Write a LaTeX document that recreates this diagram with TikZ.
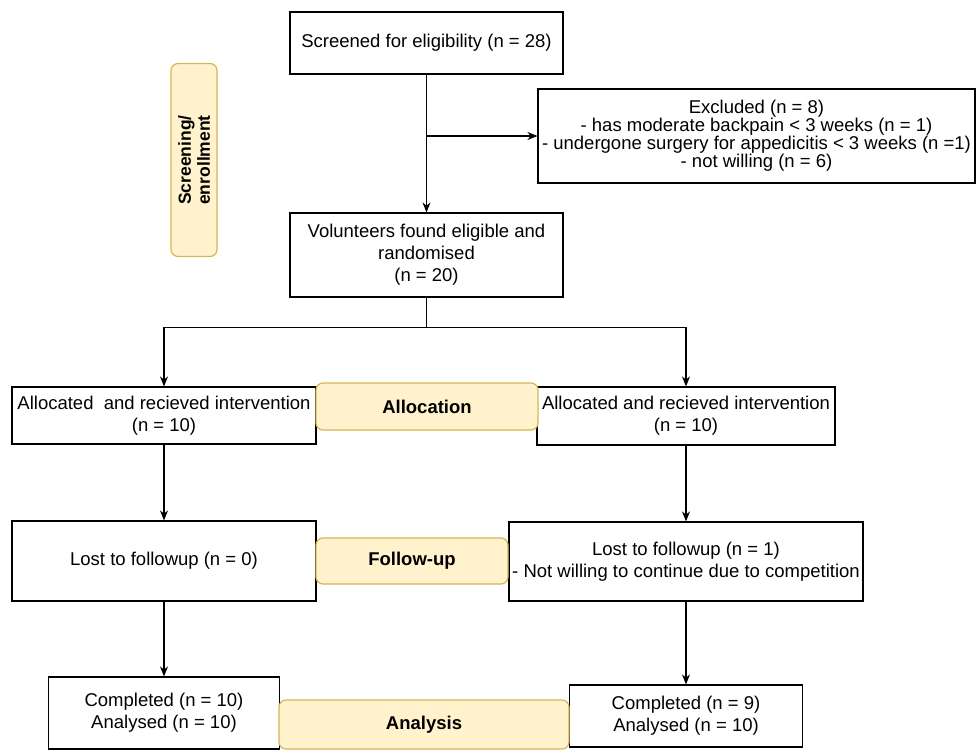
\documentclass[tikz,border=0pt]{standalone}
\usepackage{fontspec}
\setmainfont{Liberation Sans}
\usetikzlibrary{positioning, arrows.meta, calc}
\definecolor{lblfill}{HTML}{FFF2CC}
\definecolor{lbldraw}{HTML}{D6B656}
\newcommand{\boxfont}{\fontsize{18.5}{22}\selectfont}
\tikzset{
  box/.style={rectangle, draw=black, fill=white, line width=1.2pt, align=center, inner sep=2pt, font=\boxfont},
  phase/.style={rectangle, rounded corners=7pt, draw=lbldraw, fill=lblfill, line width=1.2pt, align=center, font=\boxfont\bfseries, inner sep=0pt},
  arrow/.style={line width=1.2pt, -{Stealth[length=10pt, width=8pt]}}
}

\begin{document}
\begin{tikzpicture}[x=1pt, y=-1pt]
        \useasboundingbox (0,0) rectangle (976,750);

        \node (screen) [box, minimum width=273pt, minimum height=62pt] at (426.5,43) {Screened for eligibility (n = 28)};
        \node (excl) [box, minimum width=437pt, minimum height=94pt, font=\fontsize{18.5}{18}\selectfont] at (756.5,136) {Excluded (n = 8)\\- has moderate backpain < 3 weeks (n = 1)\\- undergone surgery for appedicitis < 3 weeks (n =1)\\- not willing (n = 6)};
        \node (vol) [box, minimum width=273pt, minimum height=84pt] at (426.5,255) {Volunteers found eligible and\\randomised\\(n = 20)};

        % phase labels
        \node (lblscreen) [phase, minimum width=46pt, minimum height=193pt] at (194,160) {};
        \node [rotate=90, font=\fontsize{17.5}{19}\selectfont\bfseries, align=center] at (lblscreen.center) {Screening/\\enrollment};

        % left arm
        \node (alloc1) [box, minimum width=304pt, minimum height=57pt] at (164,415.5) {Allocated\ \ and recieved intervention\\(n = 10)};
        \node (lost1) [box, minimum width=304pt, minimum height=80pt] at (164,561) {Lost to followup (n = 0)};
        \node (comp1) [box, minimum width=231pt, minimum height=72pt] at (164,713) {Completed (n = 10)\\Analysed (n = 10)};

        % right arm
        \node (alloc2) [box, minimum width=298pt, minimum height=58pt] at (686,416) {Allocated and recieved intervention\\(n = 10)};
        \node (lost2) [box, minimum width=354pt, minimum height=79pt] at (686,561.5) {Lost to followup (n = 1)\\- Not willing to continue due to competition};
        \node (comp2) [box, minimum width=233pt, minimum height=62pt] at (686,716) {Completed (n = 9)\\Analysed (n = 10)};

        \node (lblalloc) [phase, minimum width=222pt, minimum height=47pt] at (427,406.5) {Allocation};
        \node (lblfollow) [phase, minimum width=192pt, minimum height=46pt] at (412,561) {Follow-up};
        \node (lblanal) [phase, minimum width=290pt, minimum height=49pt] at (424,724.5) {Analysis};

        \draw [arrow] (screen) -- (vol);
        \draw [arrow] (screen.south |- excl.west) -- (excl.west);

        % split after randomisation
        \draw [line width=1.2pt] (vol.south) -- ++(0,30) coordinate (split);
        \draw [arrow] (split) -| (alloc1.north);
        \draw [arrow] (split) -| (alloc2.north);

        \draw [arrow] (alloc1) -- (lost1);
        \draw [arrow] (lost1) -- (comp1);
        \draw [arrow] (alloc2) -- (lost2);
        \draw [arrow] (lost2) -- (comp2);

    \end{tikzpicture}
\end{document}
